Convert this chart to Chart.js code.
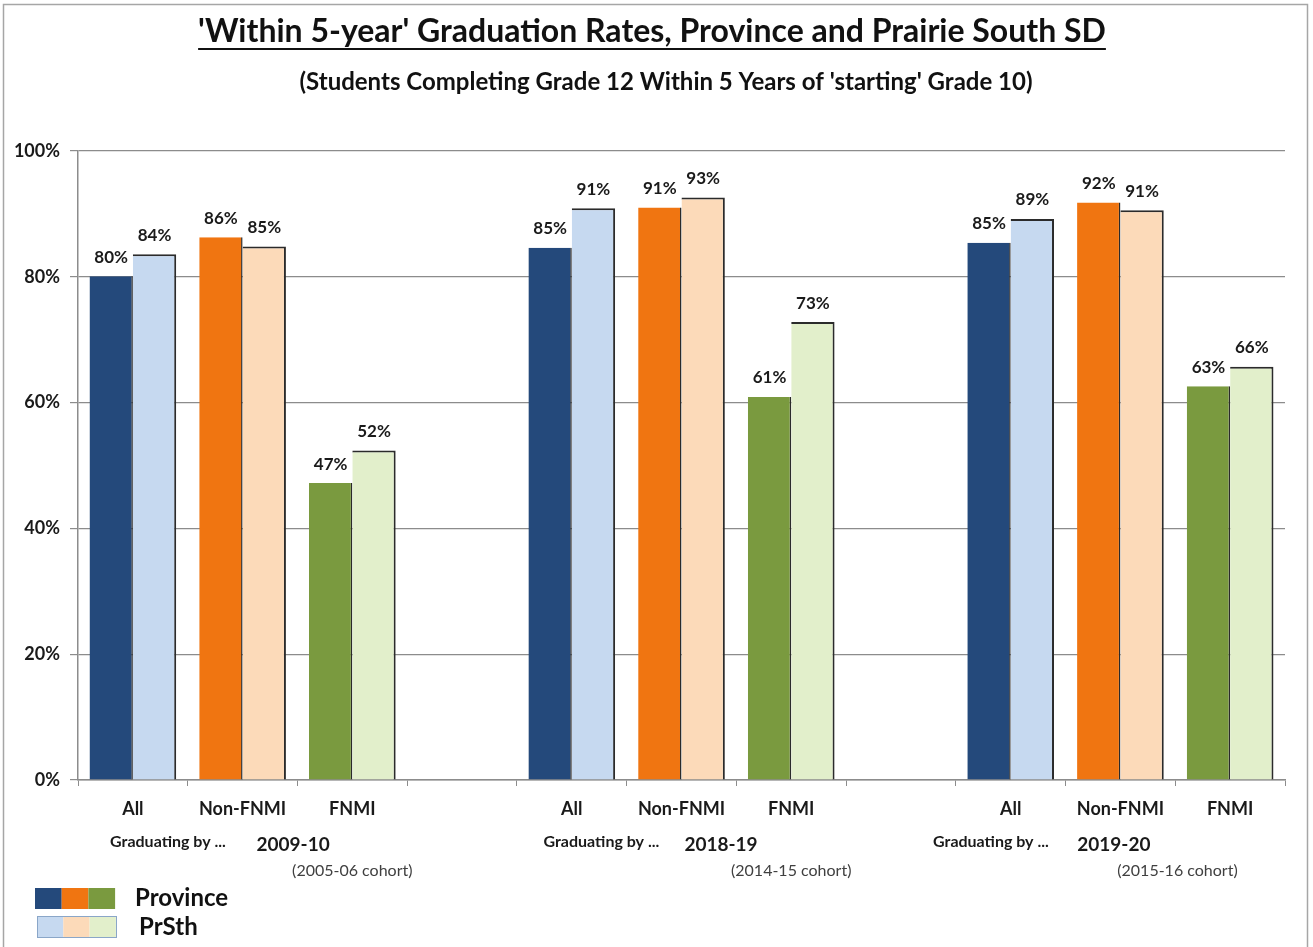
<!DOCTYPE html>
<html>
<head>
<meta charset="utf-8">
<script src="https://cdn.jsdelivr.net/npm/chart.js@4.4.0/dist/chart.umd.min.js"></script>
<style>
html, body { margin:0; padding:0; background:#fff; }
</style>
</head>
<body>
<canvas id="grafiek" width="1313" height="947"></canvas>
<script>
/* data */
var categorieen = ['All', 'Non-FNMI', 'FNMI', '', 'All', 'Non-FNMI', 'FNMI', '', 'All', 'Non-FNMI', 'FNMI'];
var provincie = [80.1, 86.3, 47.2, null, 84.6, 91.0, 60.9, null, 85.4, 91.8, 62.6];
var prsth     = [83.6, 84.8, 52.4, null, 90.9, 92.6, 72.8, null, 89.2, 90.6, 65.7];
var jaren     = ['2009-10', '2018-19', '2019-20'];
var cohorten  = ['(2005-06 cohort)', '(2014-15 cohort)', '(2015-16 cohort)'];
var yTicks    = [0, 20, 40, 60, 80, 100];
var reeksen   = ['Province', 'PrSth'];

var donker = ['#24497B', '#F07511', '#7A9A3F'];
var licht  = ['#C6D9F0', '#FCDAB9', '#E2EFCB'];
var FONT = 'Lato, "Open Sans", sans-serif';

function kleuren(lijst) {
    return categorieen.map(function (c, i) { return lijst[i % 4] || '#fff'; });
}

/* titel, labels, groepen, legenda */
var tekenPlugin = {
    id: 'teken',
    afterDatasetsDraw: function (chart) {
        var ctx = chart.ctx;
        ctx.save();
        ctx.fillStyle = '#1a1a1a';
        ctx.font = 'bold 17px ' + FONT;
        ctx.textAlign = 'center';
        ctx.textBaseline = 'middle';
        chart.data.datasets.forEach(function (ds, d) {
            chart.getDatasetMeta(d).data.forEach(function (bar, i) {
                if (ds.data[i] == null) return;
                ctx.fillText(Math.round(ds.data[i]) + '%', bar.x, bar.y - 19);
            });
        });
        ctx.restore();
    },
    afterDraw: function (chart) {
        var ctx = chart.ctx;
        var x = chart.scales.x;
        ctx.save();

        // kader
        ctx.strokeStyle = '#a6a6a6';
        ctx.lineWidth = 1.5;
        ctx.strokeRect(3.5, 4.5, 1304, 980);

        // titel
        ctx.fillStyle = '#111';
        ctx.textAlign = 'center';
        ctx.textBaseline = 'middle';
        ctx.font = 'bold 32px ' + FONT;
        var t = "'Within 5-year' Graduation Rates, Province and Prairie South SD";
        ctx.fillText(t, 652, 32);
        var w = ctx.measureText(t).width;
        ctx.fillRect(652 - w / 2, 48, w, 2);
        ctx.font = 'bold 24px ' + FONT;
        ctx.fillText("(Students Completing Grade 12 Within 5 Years of 'starting' Grade 10)", 666, 82);

        // groepslabels onder de as
        var gradPos = [0.32, 4.27, 7.82];
        var jaarPos = [1.46, 5.36, 8.94];
        var cohortPos = [2.0, 6.0, 9.52];
        jaren.forEach(function (j, g) {
            ctx.fillStyle = '#1a1a1a';
            ctx.font = 'bold 16px ' + FONT;
            ctx.fillText('Graduating by ...', x.getPixelForValue(gradPos[g]), 842);
            ctx.font = 'bold 19px ' + FONT;
            ctx.fillText(j, x.getPixelForValue(jaarPos[g]), 845);
            ctx.fillStyle = '#404040';
            ctx.font = '16px ' + FONT;
            ctx.fillText(cohorten[g], x.getPixelForValue(cohortPos[g]), 871);
        });

        // legenda
        for (var k = 0; k < 3; k++) {
            ctx.fillStyle = donker[k];
            ctx.fillRect(35 + k * 26.7, 888, 26.7, 21);
            ctx.fillStyle = licht[k];
            ctx.fillRect(37 + k * 26.3, 916, 26.3, 22);
        }
        ctx.strokeStyle = '#8aa6c8';
        ctx.lineWidth = 1;
        ctx.strokeRect(37.5, 916.5, 79, 21);
        ctx.textAlign = 'left';
        ctx.fillStyle = '#111';
        ctx.font = 'bold 24px ' + FONT;
        ctx.fillText(reeksen[0], 135, 898);
        ctx.fillText(reeksen[1], 139, 927);
        ctx.restore();
    }
};

var grijs = '#8c8c8c';

var grafiek = new Chart(document.getElementById('grafiek').getContext('2d'), {
    type: 'bar',
    data: {
        labels: categorieen,
        datasets: [{
            label: reeksen[0],
            data: provincie,
            backgroundColor: kleuren(donker),
            borderColor: '#2b2b2b',
            borderWidth: { top: 0, right: 1.5, bottom: 0, left: 0 },
            borderSkipped: 'start',
            categoryPercentage: 0.79,
            barPercentage: 1
        }, {
            label: reeksen[1],
            data: prsth,
            backgroundColor: kleuren(licht),
            borderColor: '#2b2b2b',
            borderWidth: { top: 2, right: 2, bottom: 0, left: 0 },
            borderSkipped: 'start',
            categoryPercentage: 0.79,
            barPercentage: 1
        }]
    },
    options: {
        responsive: false,
        animation: false,
        layout: { padding: { top: 151, right: 28, left: 0, bottom: 0 } },
        plugins: {
            legend: { display: false },
            title: { display: false },
            tooltip: { enabled: false }
        },
        scales: {
            x: {
                offset: true,
                grid: { drawOnChartArea: false, drawTicks: true, tickLength: 6, color: grijs },
                border: { display: true, color: grijs, width: 1.5 },
                ticks: {
                    autoSkip: false, maxRotation: 0, padding: 12,
                    color: '#1a1a1a', font: { family: FONT, size: 18, weight: 'bold' }
                },
                afterFit: function (s) { s.height = 167; }
            },
            y: {
                min: 0,
                max: 100,
                afterBuildTicks: function (s) { s.ticks = yTicks.map(function (v) { return { value: v }; }); },
                grid: { color: grijs, lineWidth: 1.2, tickLength: 8 },
                border: { display: true, color: grijs, width: 1.5 },
                ticks: {
                    padding: 10,
                    color: '#1a1a1a',
                    font: { family: FONT, size: 18, weight: 'bold' },
                    callback: function (v) { return v + '%'; }
                },
                afterFit: function (s) { s.width = 78; }
            }
        }
    },
    plugins: [tekenPlugin]
});
</script>
</body>
</html>
